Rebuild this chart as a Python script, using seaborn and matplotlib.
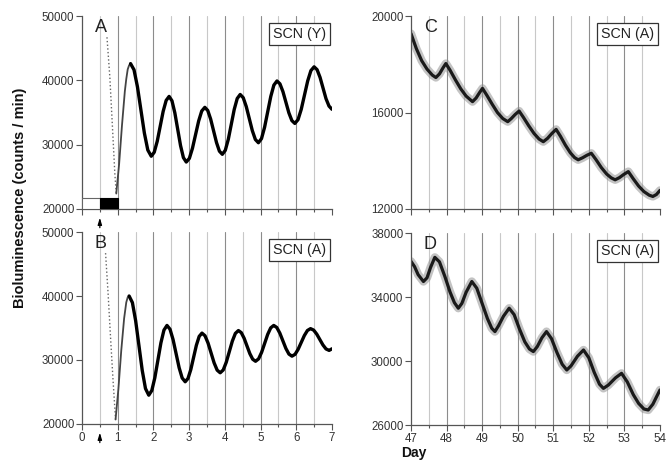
import matplotlib
matplotlib.use("Agg")
import matplotlib.pyplot as plt
import seaborn as sns
from matplotlib.ticker import MultipleLocator, FixedLocator

# ---------------- data ----------------
# Panel A - SCN (Y), days 0-7
a_drop_day = [0.70, 0.78, 0.86, 0.92, 0.96]
a_drop_lum = [46700, 40500, 32000, 25500, 22400]
a_day = [0.96, 1.04, 1.12, 1.20, 1.24, 1.28, 1.32, 1.36,
         1.457, 1.553, 1.65, 1.747, 1.843, 1.94,
         2.023, 2.107, 2.19, 2.273, 2.357, 2.44,
         2.52, 2.60, 2.68, 2.76, 2.84, 2.92,
         3.007, 3.093, 3.18, 3.267, 3.353, 3.44,
         3.522, 3.603, 3.685, 3.767, 3.848, 3.93,
         4.013, 4.097, 4.18, 4.263, 4.347, 4.43,
         4.515, 4.60, 4.685, 4.77, 4.855, 4.94,
         5.027, 5.113, 5.20, 5.287, 5.373, 5.46,
         5.543, 5.627, 5.71, 5.793, 5.877, 5.96,
         6.05, 6.14, 6.23, 6.32, 6.41, 6.50,
         6.583, 6.667, 6.75, 6.833, 6.917, 7.0]
a_lum = [22400, 27000, 33000, 38300, 40200, 41700, 42350, 42600,
         41635, 39000, 35400, 31800, 29165, 28200,
         28823, 30525, 32850, 35175, 36877, 37500,
         36817, 34950, 32400, 29850, 27983, 27300,
         27870, 29425, 31550, 33675, 35230, 35800,
         35311, 33975, 32150, 30325, 28989, 28500,
         29123, 30825, 33150, 35475, 37177, 37800,
         37298, 35925, 34050, 32175, 30802, 30300,
         30943, 32700, 35100, 37500, 39257, 39900,
         39458, 38250, 36600, 34950, 33742, 33300,
         33890, 35500, 37700, 39900, 41510, 42100,
         41660, 40450, 38800, 37150, 36000, 35500]

# Panel B - SCN (A), days 0-7
b_drop_day = [0.66, 0.73, 0.80, 0.87, 0.94]
b_drop_lum = [46700, 40500, 33500, 26800, 20700]
b_day = [0.94, 1.02, 1.10, 1.18, 1.24, 1.28, 1.32,
         1.412, 1.503, 1.595, 1.687, 1.778, 1.87,
         1.955, 2.04, 2.125, 2.21, 2.295, 2.38,
         2.465, 2.55, 2.635, 2.72, 2.805, 2.89,
         2.968, 3.047, 3.125, 3.203, 3.282, 3.36,
         3.445, 3.53, 3.615, 3.70, 3.785, 3.87,
         3.955, 4.04, 4.125, 4.21, 4.295, 4.38,
         4.46, 4.54, 4.62, 4.70, 4.78, 4.86,
         4.945, 5.03, 5.115, 5.20, 5.285, 5.37,
         5.455, 5.54, 5.625, 5.71, 5.795, 5.88,
         5.967, 6.053, 6.14, 6.227, 6.313, 6.40,
         6.487, 6.573, 6.66, 6.747, 6.833, 6.92, 7.0]
b_lum = [20700, 25500, 31500, 36500, 39000, 39800, 40000,
         38962, 36125, 32250, 28375, 25538, 24500,
         25230, 27225, 29950, 32675, 34670, 35400,
         34810, 33200, 31000, 28800, 27190, 26600,
         27109, 28500, 30400, 32300, 33691, 34200,
         33785, 32650, 31100, 29550, 28415, 28000,
         28442, 29650, 31300, 32950, 34158, 34600,
         34278, 33400, 32200, 31000, 30122, 29800,
         30175, 31200, 32600, 34000, 35025, 35400,
         35078, 34200, 33000, 31800, 30922, 30600,
         30888, 31675, 32750, 33825, 34612, 34900,
         34672, 34050, 33200, 32350, 31728, 31500, 31750]

# Panel C - SCN (A), days 47-54
c_day = [47.0, 47.15, 47.3, 47.45, 47.6, 47.70, 47.8, 47.9, 47.98,
         48.1, 48.25, 48.4, 48.55, 48.73, 48.83, 48.93, 49.01,
         49.13, 49.28, 49.43, 49.58, 49.72, 49.82, 49.93, 50.04,
         50.16, 50.31, 50.46, 50.60, 50.72, 50.84, 50.96, 51.08,
         51.2, 51.34, 51.48, 51.60, 51.70, 51.82, 51.95, 52.07,
         52.2, 52.35, 52.5, 52.63, 52.74, 52.86, 52.98, 53.11,
         53.25, 53.4, 53.55, 53.7, 53.8, 53.9, 54.0]
c_lum = [19270, 18650, 18150, 17800, 17550, 17450, 17600, 17850, 18030,
         17750, 17350, 16980, 16680, 16450, 16600, 16830, 17000,
         16720, 16350, 16000, 15750, 15620, 15750, 15920, 16060,
         15800, 15450, 15130, 14900, 14790, 14930, 15130, 15300,
         15020, 14650, 14330, 14130, 14040, 14120, 14230, 14310,
         14050, 13720, 13450, 13290, 13210, 13300, 13430, 13550,
         13250, 12950, 12720, 12570, 12520, 12600, 12770]

# Panel D - SCN (A), days 47-54
d_day = [47.0, 47.1, 47.2, 47.35, 47.45, 47.55, 47.67,
         47.8, 47.95, 48.1, 48.22, 48.33, 48.43, 48.55, 48.71,
         48.85, 49.0, 49.15, 49.27, 49.36, 49.46, 49.6, 49.76,
         49.9, 50.05, 50.2, 50.33, 50.44, 50.55, 50.68, 50.81,
         50.95, 51.1, 51.25, 51.38, 51.5, 51.68, 51.85,
         52.0, 52.15, 52.3, 52.41, 52.55, 52.75, 52.92,
         53.08, 53.25, 53.4, 53.55, 53.67, 53.8, 53.9, 54.0]
d_lum = [36230, 35900, 35400, 34970, 35200, 35850, 36480,
         36200, 35300, 34300, 33650, 33300, 33600, 34300, 34970,
         34550, 33600, 32650, 32050, 31840, 32200, 32800, 33300,
         32900, 32000, 31200, 30750, 30590, 30900, 31450, 31840,
         31400, 30550, 29800, 29440, 29700, 30300, 30690,
         30200, 29300, 28550, 28290, 28500, 28950, 29230,
         28700, 27900, 27350, 27000, 26940, 27300, 27750, 28190]

panel_letters = ["A", "B", "C", "D"]
panel_tags = ["SCN (Y)", "SCN (A)", "SCN (A)", "SCN (A)"]
ab_yticks = [20000, 30000, 40000, 50000]
c_yticks = [12000, 16000, 20000]
d_yticks = [26000, 30000, 34000, 38000]
ab_xticks = [0, 1, 2, 3, 4, 5, 6, 7]
cd_xticks = [47, 48, 49, 50, 51, 52, 53, 54]
ylabel = "Bioluminescence (counts / min)"
xlabel = "Day"

# ---------------- style ----------------
sns.set_style("ticks")
plt.rcParams["font.family"] = ["Liberation Sans", "DejaVu Sans"]

fig = plt.figure(figsize=(6.72, 4.67), dpi=100)
axA = fig.add_axes([0.122, 0.5525, 0.372, 0.4132])
axB = fig.add_axes([0.122, 0.0921, 0.372, 0.4111])
axC = fig.add_axes([0.6116, 0.5525, 0.3705, 0.4132])
axD = fig.add_axes([0.6116, 0.0899, 0.3705, 0.4111])

tick_col = "#333333"
spine_col = "#555555"


def style_axis(ax, xlim, ylim, xticks, yticks, show_xlabels, letter, tag):
    ax.set_xlim(*xlim)
    ax.set_ylim(*ylim)
    ax.xaxis.set_major_locator(FixedLocator(xticks))
    ax.xaxis.set_minor_locator(MultipleLocator(0.5))
    ax.yaxis.set_major_locator(FixedLocator(yticks))
    for s in ["top", "right"]:
        ax.spines[s].set_visible(False)
    for s in ["left", "bottom"]:
        ax.spines[s].set_color(spine_col)
        ax.spines[s].set_linewidth(0.9)
    ax.tick_params(axis="both", which="major", direction="out", length=4,
                   width=0.8, color=spine_col, labelsize=8.3,
                   labelcolor=tick_col, pad=1.5)
    ax.tick_params(axis="x", which="minor", direction="out", length=2.5,
                   width=0.8, color=spine_col)
    ax.set_xlabel("")
    ax.set_ylabel("")
    if not show_xlabels:
        ax.set_xticklabels([])
    # vertical grid lines at every half day
    v = xlim[0] + 0.5
    while v < xlim[1] - 1e-9:
        is_int = abs(v - round(v)) < 1e-9
        ax.axvline(v, color="#8c8c8c" if is_int else "#c8c8c8",
                   lw=0.8, zorder=0)
        v += 0.5
    ax.text(0.052, 0.985, letter, transform=ax.transAxes, ha="left",
            va="top", fontsize=13, color="#222222")
    ax.text(0.975, 0.945, tag, transform=ax.transAxes, ha="right",
            va="top", fontsize=10.3, color="#222222",
            bbox=dict(boxstyle="square,pad=0.28", fc="white", ec="#333333",
                      lw=0.9))


# Panels A & B
for ax, dd, dl, xd, yl, letter, tag, lab, nrise in [
        (axA, a_drop_day, a_drop_lum, a_day, a_lum, "A", "SCN (Y)", False, 8),
        (axB, b_drop_day, b_drop_lum, b_day, b_lum, "B", "SCN (A)", True, 7)]:
    sns.lineplot(x=dd, y=dl, ax=ax, sort=False, estimator=None,
                 color="#666666", lw=1.0, linestyle=":")
    sns.lineplot(x=xd[:nrise], y=yl[:nrise], ax=ax, sort=False,
                 estimator=None, color="#444444", lw=1.3)
    sns.lineplot(x=xd[nrise - 1:], y=yl[nrise - 1:], ax=ax, sort=False,
                 estimator=None, color="black", lw=2.4)
    style_axis(ax, (0, 7), (20000, 50000), ab_xticks, ab_yticks, lab,
               letter, tag)
    ax.annotate("", xy=(0.5, -0.045), xycoords=("data", "axes fraction"),
                xytext=(0.5, -0.097), textcoords=("data", "axes fraction"),
                arrowprops=dict(arrowstyle="-|>,head_length=0.4,head_width=0.12",
                                color="black", lw=0.9, shrinkA=0, shrinkB=0),
                annotation_clip=False)

# light/dark bar in A
axA.add_patch(plt.Rectangle((0, 20000), 0.5, 1660, fc="white",
                            ec="#666666", lw=0.8, zorder=3))
axA.add_patch(plt.Rectangle((0.5, 20000), 0.5, 1660, fc="black",
                            ec="black", lw=0.8, zorder=3))

# Panels C & D
for ax, xd, yl, ylim, yt, letter in [
        (axC, c_day, c_lum, (12000, 20000), c_yticks, "C"),
        (axD, d_day, d_lum, (26000, 38000), d_yticks, "D")]:
    sns.lineplot(x=xd, y=yl, ax=ax, sort=False, estimator=None,
                 color="#888888", lw=6, alpha=0.5)
    sns.lineplot(x=xd, y=yl, ax=ax, sort=False, estimator=None,
                 color="#1a1a1a", lw=2.3)
    style_axis(ax, (47, 54), ylim, cd_xticks, yt, ax is axD, letter,
               "SCN (A)")

fig.text(0.030, 0.576, ylabel, rotation=90, ha="center", va="center",
         fontsize=10.5, fontweight="bold", color="#111111")
fig.text(0.616, 0.015, xlabel, ha="center", va="bottom",
         fontsize=10, fontweight="bold", color="#111111")

fig.savefig("out.png", dpi=100)
